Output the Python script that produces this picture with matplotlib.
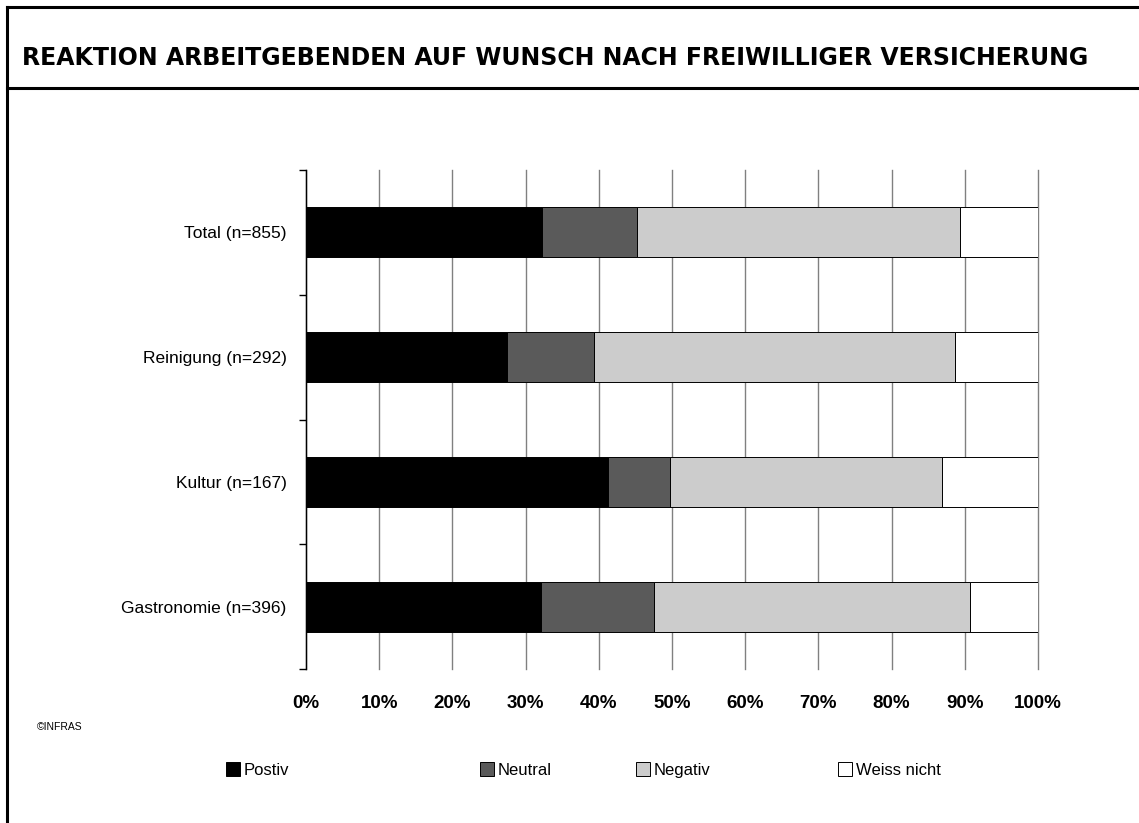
import numpy as np
import matplotlib.pyplot as plt
from matplotlib.patches import Patch
from matplotlib.lines import Line2D

# Survey shares in percent, bottom to top
categories = ["Gastronomie (n=396)", "Kultur (n=167)", "Reinigung (n=292)", "Total (n=855)"]
positiv = [32.1, 41.3, 27.5, 32.3]
neutral = [15.4, 8.4, 11.9, 12.9]
negativ = [43.2, 37.2, 49.3, 44.1]
weiss_nicht = [9.3, 13.1, 11.3, 10.7]

series_names = ["Postiv", "Neutral", "Negativ", "Weiss nicht"]
series_colors = ["#000000", "#5a5a5a", "#cccccc", "#ffffff"]
xtick_values = np.arange(0, 101, 10)
xtick_labels = [f"{v}%" for v in xtick_values]

plt.rcParams['font.family'] = ['Liberation Sans', 'DejaVu Sans']

fig = plt.figure(figsize=(11.39, 8.23), dpi=100)
W, H = 1139, 823

# frame around the title and along the left edge
fig.add_artist(Line2D([7 / W, 1], [1 - 7 / H, 1 - 7 / H], color='black', lw=2.2))
fig.add_artist(Line2D([7 / W, 1], [1 - 88 / H, 1 - 88 / H], color='black', lw=2.2))
fig.add_artist(Line2D([7 / W, 7 / W], [0, 1 - 7 / H], color='black', lw=2.2))

fig.text(22 / W, 1 - 58 / H, "REAKTION ARBEITGEBENDEN AUF WUNSCH NACH FREIWILLIGER VERSICHERUNG",
         fontsize=17, fontweight='bold', family=['DejaVu Sans'], va='center', ha='left')

ax = fig.add_axes([306 / W, 1 - 669 / H, 732 / W, 499 / H])

y = np.arange(len(categories))
left = np.zeros(len(categories))
for vals, name, col in zip([positiv, neutral, negativ, weiss_nicht], series_names, series_colors):
    ax.barh(y, vals, left=left, height=0.4, color=col, edgecolor='black', linewidth=0.7,
            label=name, zorder=3)
    left += np.array(vals)

ax.set_xlim(0, 100)
ax.set_ylim(-0.5, len(categories) - 0.5)
ax.set_xticks(xtick_values)
ax.set_xticklabels(xtick_labels, fontsize=13.5, fontweight='bold')
ax.tick_params(axis='x', length=0, pad=19)
ax.xaxis.grid(True, color='#808080', linewidth=1.0, zorder=0)
for gl in ax.get_xgridlines():
    gl.set_clip_on(False)
ax.set_axisbelow(True)

ax.set_yticks(y)
ax.set_yticklabels(categories, fontsize=12.5)
ax.set_yticks(np.arange(-0.5, len(categories), 1), minor=True)
ax.tick_params(axis='y', which='major', length=0, pad=14)
ax.tick_params(axis='y', which='minor', length=5, width=1, color='black')

for side in ['top', 'right', 'bottom']:
    ax.spines[side].set_visible(False)
ax.spines['left'].set_linewidth(1.0)

fig.text(37 / W, 1 - 727 / H, "©INFRAS", fontsize=7.5, va='center', ha='left')

# legend entries spaced like the original layout
legend_x = [226, 480, 636, 838]
for name, col, lx in zip(series_names, series_colors, legend_x):
    h = Patch(facecolor=col, edgecolor='black', linewidth=0.7)
    fig.legend(handles=[h], labels=[name], loc='center left',
               bbox_to_anchor=(lx / W, 1 - 770 / H), frameon=False, fontsize=12,
               handlelength=0.85, handleheight=0.85, handletextpad=0.2, borderpad=0, borderaxespad=0)

fig.savefig("out.png", dpi=100, facecolor='white')
